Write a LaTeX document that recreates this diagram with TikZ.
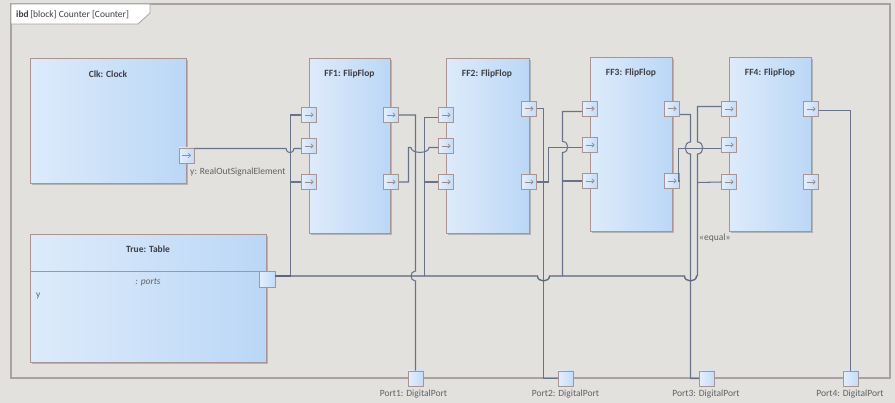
\documentclass[tikz,border=0pt]{standalone}
\usepackage{fontspec}
\setmainfont{Carlito}
\usetikzlibrary{arrows.meta,shadows}
\definecolor{bgc}{HTML}{E2E1DE}
\definecolor{framec}{HTML}{A9A2A0}
\definecolor{blkborder}{HTML}{A99494}
\definecolor{blkL}{HTML}{DDEBFB}
\definecolor{blkR}{HTML}{BBD7F6}
\definecolor{portL}{HTML}{E4EFFC}
\definecolor{portR}{HTML}{C3DCF7}
\definecolor{arrowc}{HTML}{9A8A8A}
\definecolor{connc}{HTML}{67738B}
\definecolor{busc}{HTML}{5A657B}
\definecolor{titc}{HTML}{3E3E46}
\definecolor{labc}{HTML}{626262}
\tikzset{
  blockbox/.style={draw=blkborder, line width=1pt, left color=blkL, right color=blkR,
    anchor=north west, inner sep=0pt,
    drop shadow={shadow xshift=1.6pt, shadow yshift=-1.6pt, fill=black, opacity=0.2}},
  portbox/.style={draw=blkborder, line width=0.9pt, left color=portL, right color=portR,
    minimum size=15pt, inner sep=0pt},
  inport/.style={portbox, path picture={\draw[arrowc, line width=0.7pt, -{Straight Barb[length=2.2pt,width=4.4pt]}]
      ([xshift=-4.5pt]path picture bounding box.center) -- ([xshift=4.5pt]path picture bounding box.center);}},
  conn/.style={draw=connc, line width=1.05pt},
  bus/.style={draw=busc, line width=1.3pt},
  ttl/.style={font=\fontsize{9.5}{11}\selectfont\bfseries, text=titc, inner sep=0pt},
  lbl/.style={font=\fontsize{9.5}{11}\selectfont, text=labc, inner sep=0pt},
}
\begin{document}
\begin{tikzpicture}[x=1pt,y=-1pt]
\useasboundingbox (0,0) rectangle (895,403);
\fill[bgc] (0,0) rectangle (895,403);
% frame
\draw[framec, line width=1.2pt] (11,4) rectangle (890,378);
\draw[framec, fill=white, line width=0.8pt] (11,4) -- (150,4) -- (150,13) -- (138,24) -- (11,24) -- cycle;
\node[lbl, anchor=west, text=titc] (frametitle) at (16,14.5) {\textbf{ibd}\,[block] Counter [Counter]};

% blocks
\node[blockbox, minimum width=156pt, minimum height=125pt] (clk) at (30,58) {};
\node[blockbox, minimum width=81pt, minimum height=175pt] (ff1) at (309,58) {};
\node[blockbox, minimum width=82.5pt, minimum height=175pt] (ff2) at (446,58) {};
\node[blockbox, minimum width=82pt, minimum height=174pt] (ff3) at (590,57) {};
\node[blockbox, minimum width=82pt, minimum height=174pt] (ff4) at (729,57) {};
\node[blockbox, minimum width=236pt, minimum height=128pt] (table) at (30,234) {};
\draw[blkborder, line width=1pt] (table.west |- 0,272) -- (table.east |- 0,272);

\node[ttl] (clkt) at (108,74) {Clk: Clock};
\node[ttl] (ff1t) at (349.5,74) {FF1: FlipFlop};
\node[ttl] (ff2t) at (487,74) {FF2: FlipFlop};
\node[ttl] (ff3t) at (631,73) {FF3: FlipFlop};
\node[ttl] (ff4t) at (770,73) {FF4: FlipFlop};
\node[ttl] (tablet) at (148,249) {True: Table};
\node[lbl] (tablep) at (148,282.5) {\itshape : ports};
\node[lbl, anchor=west] (tabley) at (36,296) {y};

% ports
\node[inport] (clko) at (186.5,155.5) {};
\node[inport] (ff1i1) at (309,115) {};
\node[inport] (ff1i2) at (309,146) {};
\node[inport] (ff1i3) at (309,182) {};
\node[inport] (ff1o1) at (391,115) {};
\node[inport] (ff1o2) at (391,182) {};
\node[inport] (ff2i1) at (446,115) {};
\node[inport] (ff2i2) at (446,146) {};
\node[inport] (ff2i3) at (446,182) {};
\node[inport] (ff2o1) at (529,108.7) {};
\node[inport] (ff2o2) at (529,182) {};
\node[inport] (ff3i1) at (590,108.7) {};
\node[inport] (ff3i2) at (590,145) {};
\node[inport] (ff3i3) at (590,181) {};
\node[inport] (ff3o1) at (672,108.7) {};
\node[inport] (ff3o2) at (672,181) {};
\node[inport] (ff4i1) at (729,109) {};
\node[inport] (ff4i2) at (729,145) {};
\node[inport] (ff4i3) at (729,182) {};
\node[inport] (ff4o1) at (811,109) {};
\node[inport] (ff4o2) at (811,182) {};
\node[portbox, minimum size=16pt] (tport) at (267,279.5) {};
\node[portbox] (p1) at (415.5,378.5) {};
\node[portbox] (p2) at (565.5,378.5) {};
\node[portbox] (p3) at (707,378.5) {};
\node[portbox] (p4) at (850.5,378.5) {};

% labels
\node[lbl, anchor=west] (clkol) at (190,172) {y: RealOutSignalElement};
\node[lbl, anchor=west] (eql) at (699,237.5) {«equal»};
\node[lbl] (p1l) at (413.5,394.5) {Port1: DigitalPort};
\node[lbl] (p2l) at (565.5,394.5) {Port2: DigitalPort};
\node[lbl] (p3l) at (706,394.5) {Port3: DigitalPort};
\node[lbl] (p4l) at (850,394.5) {Port4: DigitalPort};

% connectors
\draw[conn] (clko.east |- 0,148.5) -- (286,148.5) .. controls (286,154) and (294,154) .. (294,148.5) -- (ff1i2.west |- 0,148.5);
\draw[conn] (ff1i1.west) -- (290.5,115) -- (290.5,276);
\draw[conn] (ff1i3.west) -- (290.5,182);
\draw[conn] (ff1o1.east) -- (415.5,115) -- (415.5,271) .. controls (409.5,271) and (409.5,281) .. (415.5,281) -- (p1.north);
\draw[conn] (ff1o2.east) -- (408.5,182) -- (408.5,147.5) -- (411,147.5) .. controls (411,154) and (429,154) .. (429,147.5) -- (ff2i2.west |- 0,147.5);
\draw[conn] (ff2i1.west |- 0,117.5) -- (424.5,117.5) -- (424.5,276);
\draw[conn] (ff2i3.west) -- (424.5,182);
\draw[conn] (ff2o1.east) -- (543.5,108.7) -- (543.5,378.5) -- (p2.west);
\draw[conn] (ff2o2.east) -- (548.5,182) -- (548.5,147.5) -- (ff3i2.west |- 0,147.5);
\draw[conn] (ff3i1.west |- 0,111.5) -- (562.5,111.5) -- (562.5,141.5) .. controls (569.5,141.5) and (569.5,152.5) .. (562.5,152.5) -- (562.5,276);
\draw[conn] (ff3i3.west) -- (562.5,181);
\draw[conn] (ff3o1.east |- 0,114.5) -- (690.5,114.5) -- (690.5,142) .. controls (683.5,142) and (683.5,154) .. (690.5,154) -- (690.5,378.5) -- (p3.west);
\draw[conn] (ff3o2.east) -- (678.5,181) -- (678.5,148.5) -- (ff4i2.west |- 0,148.5);
\draw[conn] (ff4i1.west |- 0,106.5) -- (697.5,106.5) -- (697.5,142) .. controls (704.5,142) and (704.5,154) .. (697.5,154) -- (697.5,276);
\draw[conn] (ff4i3.west) -- (697.5,182.5);
\draw[conn] (ff4o1.east |- 0,110.5) -- (850.5,110.5) -- (p4.north);
% bus
\draw[bus, line width=2.4pt] (tport.east |- 0,276) -- (290.5,276);
\draw[bus] (290.5,276) -- (537.5,276) .. controls (537.5,282.5) and (549.5,282.5) .. (549.5,276) -- (684.5,276) .. controls (684.5,282.5) and (696.5,282.5) .. (696.5,276) -- (697.5,276);
\end{tikzpicture}
\end{document}
